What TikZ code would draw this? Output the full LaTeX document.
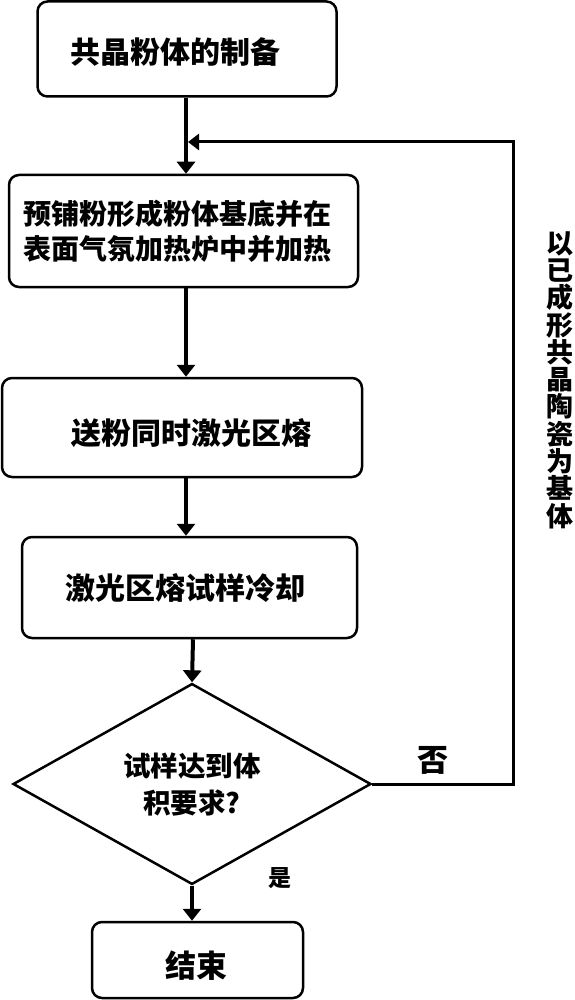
\documentclass[tikz,border=0pt]{standalone}
\usepackage{fontspec}
\newfontfamily\cjk{Noto Sans CJK SC}
\usetikzlibrary{arrows.meta,positioning,shapes.geometric,calc}
% move the ink of a node text by (dx,dy) without changing its box
\newcommand{\nudgetext}[3]{\raisebox{-#2}[\height][\depth]{\kern#1#3\kern-#1}}

\begin{document}
\begin{tikzpicture}[
    x=1pt,y=-1pt,
    stepbox/.style={rectangle,draw,rounded corners=10pt,line width=2.5pt,inner sep=0pt},
    decision/.style={diamond,draw,line width=2.5pt,inner sep=0pt},
    arr/.style={-{Triangle[length=12pt,width=18pt]},line width=4pt},
    fb/.style={-{Triangle[length=11pt,width=16pt]},line width=3pt},
    font=\cjk\bfseries\fontsize{30}{35}\selectfont
  ]
  \useasboundingbox (0,0) rectangle (574,1000);

  %% Process steps
  \node[stepbox,minimum width=299pt,minimum height=95pt] (prep) at (187,49) {\nudgetext{-12pt}{3pt}{共晶粉体的制备}};
  \node[stepbox,minimum width=349pt,minimum height=112pt,align=center,
        font=\cjk\bfseries\fontsize{28}{35}\selectfont] (lay) at (183.5,231) {\nudgetext{-6pt}{0pt}{预铺粉形成粉体基底并在}\\\nudgetext{-6pt}{0pt}{表面气氛加热炉中并加热}};
  \node[stepbox,minimum width=360pt,minimum height=99pt] (melt) at (182,427.5) {\nudgetext{9pt}{6pt}{送粉同时激光区熔}};
  \node[stepbox,minimum width=335pt,minimum height=101pt] (cool) at (189.5,587.5) {\nudgetext{-4pt}{0pt}{激光区熔试样冷却}};

  %% Decision and end
  \node[decision,minimum width=358pt,minimum height=162pt,align=center,
        font=\cjk\bfseries\fontsize{27.5}{37}\selectfont] (check) at (192,784) {试样达到体\\积要求?};
  \node[stepbox,minimum width=211pt,minimum height=76pt,
        font=\cjk\bfseries\fontsize{31}{35}\selectfont] (done) at (197.5,960) {\nudgetext{-1.5pt}{5.5pt}{结束}};

  %% helper columns
  \coordinate (ax) at (186,0);
  \coordinate (bx) at (193,0);
  \coordinate (fbx) at (513,0);
  \coordinate (join) at (188,142);

  %% main flow
  \draw[arr] (prep.south -| ax) -- (lay.north -| ax);
  \draw[arr] (lay.south -| ax) -- (melt.north -| ax);
  \draw[arr] (melt.south -| ax) -- (cool.north -| ax);
  \draw[arr] (cool.south -| bx) -- (check.north);
  \draw[arr] (check.south) -- (done.north -| check.south);

  %% feedback loop
  \draw[fb] (check.east) -- (check.east -| fbx) -- (fbx |- join) -- (join);

  %% branch labels
  \node[font=\cjk\bfseries\fontsize{31}{31}\selectfont] (no) at (433,760) {否};
  \node[font=\cjk\bfseries\fontsize{23}{23}\selectfont] (yes) at (280,878) {是};
  \node[align=center,font=\cjk\bfseries\fontsize{27}{27.3}\selectfont] (base) at (560,380)
    {以\\已\\成\\形\\共\\晶\\陶\\瓷\\为\\基\\体};
\end{tikzpicture}
\end{document}
